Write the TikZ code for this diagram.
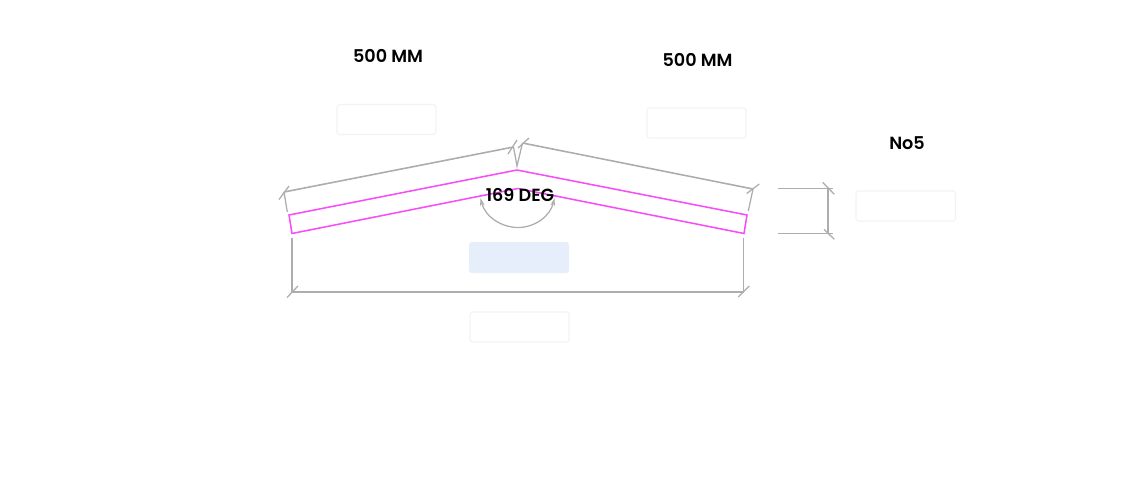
\documentclass[tikz,border=0pt]{standalone}
\usepackage{fontspec}
\setmainfont{Poppins}[BoldFont={Poppins SemiBold}]
\usetikzlibrary{arrows.meta}
\definecolor{dimgrey}{HTML}{ADADAD}
\definecolor{beam}{HTML}{F84CF8}
\definecolor{boxline}{HTML}{F3F3F5}
\definecolor{boxfill}{HTML}{E7EEFB}
\tikzset{
  dimline/.style={draw=dimgrey,line width=1.2pt},
  tickline/.style={draw=dimgrey,line width=.95pt},
  beamline/.style={draw=beam,line width=1.15pt,line join=miter},
  inputbox/.style={draw=boxline,line width=.8pt,rounded corners=2pt,fill=white},
  activebox/.style={fill=boxfill,rounded corners=2pt},
  dimlabel/.style={font=\fontsize{13.2pt}{16pt}\selectfont\bfseries,text=black,inner sep=0pt,anchor=center}
}
\begin{document}
\begin{tikzpicture}[x=0.75pt,y=-0.75pt]
\useasboundingbox (0,0) rectangle (1138,479);
% input boxes
\path[inputbox] (337,104.5) rectangle (436,134.5);
\path[inputbox] (647,108) rectangle (746,138);
\path[inputbox] (856,191) rectangle (955.5,221);
\path[activebox] (469,242) rectangle (569,273);
\path[inputbox] (470,312) rectangle (569,342);
% coordinates
\coordinate (tl) at (284,192);
\coordinate (tm1) at (513.5,147);
\coordinate (tm2) at (522.5,143);
\coordinate (tr) at (753,189);
\coordinate (bl) at (292,292);
\coordinate (br) at (743.5,292);
\coordinate (rt) at (828,188.3);
\coordinate (rb) at (828,233.3);
\coordinate (arcl) at (480.5,198);
\coordinate (arcb) at (518,227.5);
\coordinate (arcr) at (554.5,198);
% beam
\draw[beamline] (289,215) -- (517,170) -- (747,215) -- (744,233.5) -- (518,188.5) -- (292,233.5) -- cycle;
% sloped dimensions
\draw[dimline] (tl) -- (tm1);
\draw[dimline] (tm2) -- (tr);
\draw[tickline] (tl) -- (287.3,212);
\draw[tickline] (tm1) -- (517,166) -- (tm2);
\draw[tickline] (tr) -- (748.3,211);
\draw[tickline] (279,199.5) -- (289,186);
\draw[tickline] (508,154) -- (517,140);
\draw[tickline] (518,148) -- (529,138);
\draw[tickline] (746.7,193.5) -- (759.3,184);
% span dimension
\draw[dimline] (bl) -- (br);
\draw[tickline] (292,238) -- (bl);
\draw[tickline] (br |- 0,238) -- (br);
\draw[tickline] (287,297.5) -- (298,286);
\draw[tickline] (738.3,297) -- (749.3,286);
% thickness dimension
\draw[dimline] (778,188.3) -- (833,188.3);
\draw[dimline] (778,233.3) -- (833,233.3);
\draw[tickline] (rt) -- (rb);
\draw[tickline] (822.7,182.3) -- (834.3,194.3);
\draw[tickline] (824,229.3) -- (834.3,239.3);
% angle
\draw[tickline,{Stealth[length=6pt,width=3.5pt]}-{Stealth[length=6pt,width=3.5pt]}]
  (arcl) .. controls (485,217) and (502,227.5) .. (arcb) .. controls (534,227.5) and (550,217) .. (arcr);
% labels
\node[dimlabel] (lenA) at (388,56) {500 MM};
\node[dimlabel] (lenB) at (697.5,60) {500 MM};
\node[dimlabel] (thick) at (907,143) {No5};
\node[dimlabel] (angle) at (520,195) {169 DEG};
\end{tikzpicture}
\end{document}
